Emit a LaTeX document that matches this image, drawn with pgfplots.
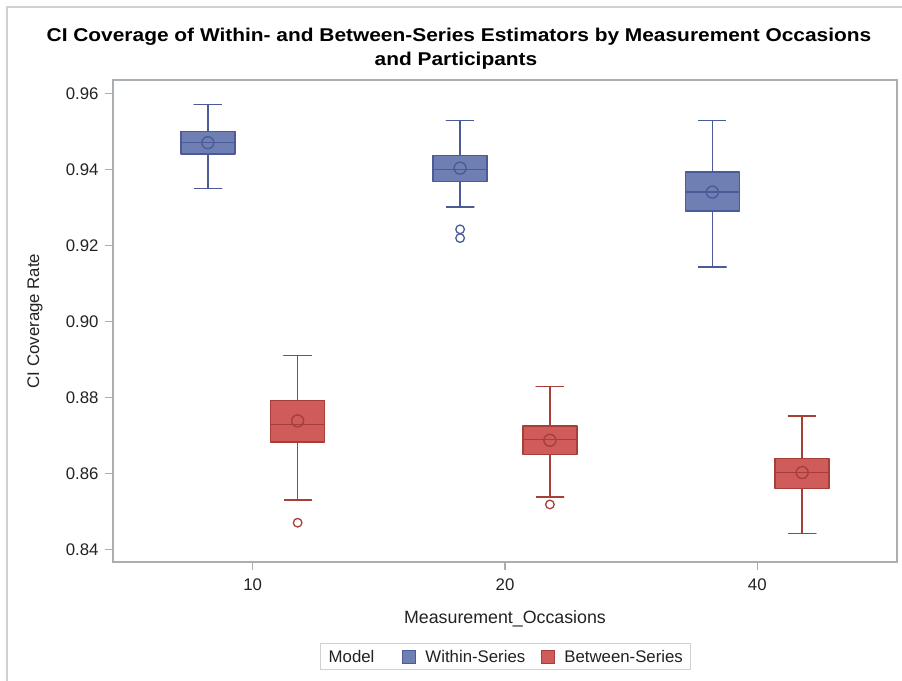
\documentclass[border=0pt]{standalone}
\usepackage{pgfplots}
\pgfplotsset{compat=1.18}
\usepackage{fontspec}
\setmainfont{Liberation Sans}
\definecolor{bfill}{HTML}{6F7EB3}
\definecolor{bline}{HTML}{4A5B98}
\definecolor{rfill}{HTML}{D05B5B}
\definecolor{rline}{HTML}{A63F35}
\definecolor{framegray}{HTML}{A9AEB3}
\definecolor{bordergray}{HTML}{D0D0D0}
\definecolor{txt}{HTML}{222222}
\newcommand{\fs}{\fontsize{16.8bp}{20bp}\selectfont}
\begin{document}
\begin{tikzpicture}
\path[use as bounding box] (0,0) rectangle (902bp,681bp);
\draw[bordergray, line width=1.2bp] (7bp,0bp) -- (7bp,674bp) -- (902bp,674bp);
\node[anchor=base, inner sep=0pt, font=\fontsize{18.5bp}{22bp}\selectfont\bfseries] at (459bp,639bp) {\scalebox{1.13}[1]{CI Coverage of Within- and Between-Series Estimators by Measurement Occasions}};
\node[anchor=base, inner sep=0pt, font=\fontsize{18.5bp}{22bp}\selectfont\bfseries] at (456bp,615bp) {\scalebox{1.13}[1]{and Participants}};
\begin{axis}[
  at={(113bp,119bp)}, anchor=south west,
  width=784bp, height=482bp, scale only axis,
  xmin=-0.554, xmax=2.554, ymin=0.83666, ymax=0.9635,
  xtick={0,1,2}, xticklabels={10,20,40},
  ytick={0.84,0.86,0.88,0.90,0.92,0.94,0.96},
  yticklabels={0.84,0.86,0.88,0.90,0.92,0.94,0.96},
  tick align=outside, major tick length=8bp,
  xtick pos=lower, ytick pos=left,
  axis line style={framegray, line width=1.2bp},
  tick style={framegray, line width=1.2bp},
  tick label style={font=\fs, text=txt},
  xticklabel style={yshift=-5bp},
  yticklabel style={xshift=-3bp},
  label style={font=\fs, text=txt},
  xlabel={Measurement\_Occasions},
  ylabel={CI Coverage Rate},
  xlabel style={at={(axis description cs:0.5,-0.1266)}, anchor=base, font=\fontsize{17.8bp}{20bp}\selectfont},
  ylabel style={at={(axis description cs:-0.0995,0.5)}, anchor=center},
  legend columns=3,
  legend style={at={(axis description cs:0.501,-0.197)}, anchor=center,
    draw=bordergray, line width=1bp, font=\fs, text=txt,
    inner xsep=8bp, inner ysep=6bp,
    nodes={inner sep=0bp},
    /tikz/every odd column/.append style={column sep=9bp},
    /tikz/every even column/.append style={column sep=16bp}},
  legend entries={\hspace*{-9bp}Model\hspace*{12bp}, Within-Series, Between-Series},
  bw/.style={draw=bline, line width=1.4bp, line join=round},
  rw/.style={draw=rline, line width=1.4bp, line join=round},
]
\addlegendimage{empty legend}
\addlegendimage{legend image code/.code={\draw[fill=bfill, draw=bline, line width=1bp] (0bp,-6.5bp) rectangle (13bp,6.5bp);}}
\addlegendimage{legend image code/.code={\draw[fill=rfill, draw=rline, line width=1bp] (0bp,-6.5bp) rectangle (13bp,6.5bp);}}

% ---------- Within-Series (blue) ----------
% 10: lw .935 lq .944 med .947 uq .950 uw .957
\addplot[bw] coordinates {(-0.233,0.935) (-0.123,0.935) (-0.178,0.935) (-0.178,0.957) (-0.233,0.957) (-0.123,0.957)};
\addplot[bw, fill=bfill] coordinates {(-0.285,0.944) (-0.071,0.944) (-0.071,0.950) (-0.285,0.950)} -- cycle;
\addplot[bw] coordinates {(-0.285,0.947) (-0.071,0.947)};
% 20: lw .9301 lq .9368 med .9399 uq .9437 uw .9529
\addplot[bw] coordinates {(0.767,0.9301) (0.877,0.9301) (0.822,0.9301) (0.822,0.9529) (0.767,0.9529) (0.877,0.9529)};
\addplot[bw, fill=bfill] coordinates {(0.715,0.9368) (0.929,0.9368) (0.929,0.9437) (0.715,0.9437)} -- cycle;
\addplot[bw] coordinates {(0.715,0.9399) (0.929,0.9399)};
% 40: lw .9143 lq .929 med .934 uq .9393 uw .9529
\addplot[bw] coordinates {(1.767,0.9143) (1.877,0.9143) (1.822,0.9143) (1.822,0.9529) (1.767,0.9529) (1.877,0.9529)};
\addplot[bw, fill=bfill] coordinates {(1.715,0.929) (1.929,0.929) (1.929,0.9393) (1.715,0.9393)} -- cycle;
\addplot[bw] coordinates {(1.715,0.934) (1.929,0.934)};

% ---------- Between-Series (red) ----------
% 10: lw .853 lq .8682 med .8728 uq .8792 uw .891
\addplot[rw] coordinates {(0.123,0.853) (0.233,0.853) (0.178,0.853) (0.178,0.891) (0.123,0.891) (0.233,0.891)};
\addplot[rw, fill=rfill] coordinates {(0.071,0.8682) (0.285,0.8682) (0.285,0.8792) (0.071,0.8792)} -- cycle;
\addplot[rw] coordinates {(0.071,0.8728) (0.285,0.8728)};
% 20: lw .8538 lq .865 med .8689 uq .8724 uw .8829
\addplot[rw] coordinates {(1.123,0.8538) (1.233,0.8538) (1.178,0.8538) (1.178,0.8829) (1.123,0.8829) (1.233,0.8829)};
\addplot[rw, fill=rfill] coordinates {(1.071,0.865) (1.285,0.865) (1.285,0.8724) (1.071,0.8724)} -- cycle;
\addplot[rw] coordinates {(1.071,0.8689) (1.285,0.8689)};
% 40: lw .8441 lq .856 med .8602 uq .8639 uw .8751
\addplot[rw] coordinates {(2.123,0.8441) (2.233,0.8441) (2.178,0.8441) (2.178,0.8751) (2.123,0.8751) (2.233,0.8751)};
\addplot[rw, fill=rfill] coordinates {(2.071,0.856) (2.285,0.856) (2.285,0.8639) (2.071,0.8639)} -- cycle;
\addplot[rw] coordinates {(2.071,0.8602) (2.285,0.8602)};

% outliers
\addplot[only marks, mark=o, mark size=4.3bp, mark options={draw=bline, line width=1.3bp}] coordinates {(0.822,0.9242) (0.822,0.9219)};
\addplot[only marks, mark=o, mark size=4.3bp, mark options={draw=rline, line width=1.3bp}] coordinates {(0.178,0.847) (1.178,0.8518)};

% means
\addplot[only marks, mark=o, mark size=6bp, mark options={draw=bline, line width=1.4bp}] coordinates {(-0.178,0.947) (0.822,0.9403) (1.822,0.934)};
\addplot[only marks, mark=o, mark size=6bp, mark options={draw=rline, line width=1.4bp}] coordinates {(0.178,0.8738) (1.178,0.8687) (2.178,0.8602)};
\end{axis}
\end{tikzpicture}
\end{document}
